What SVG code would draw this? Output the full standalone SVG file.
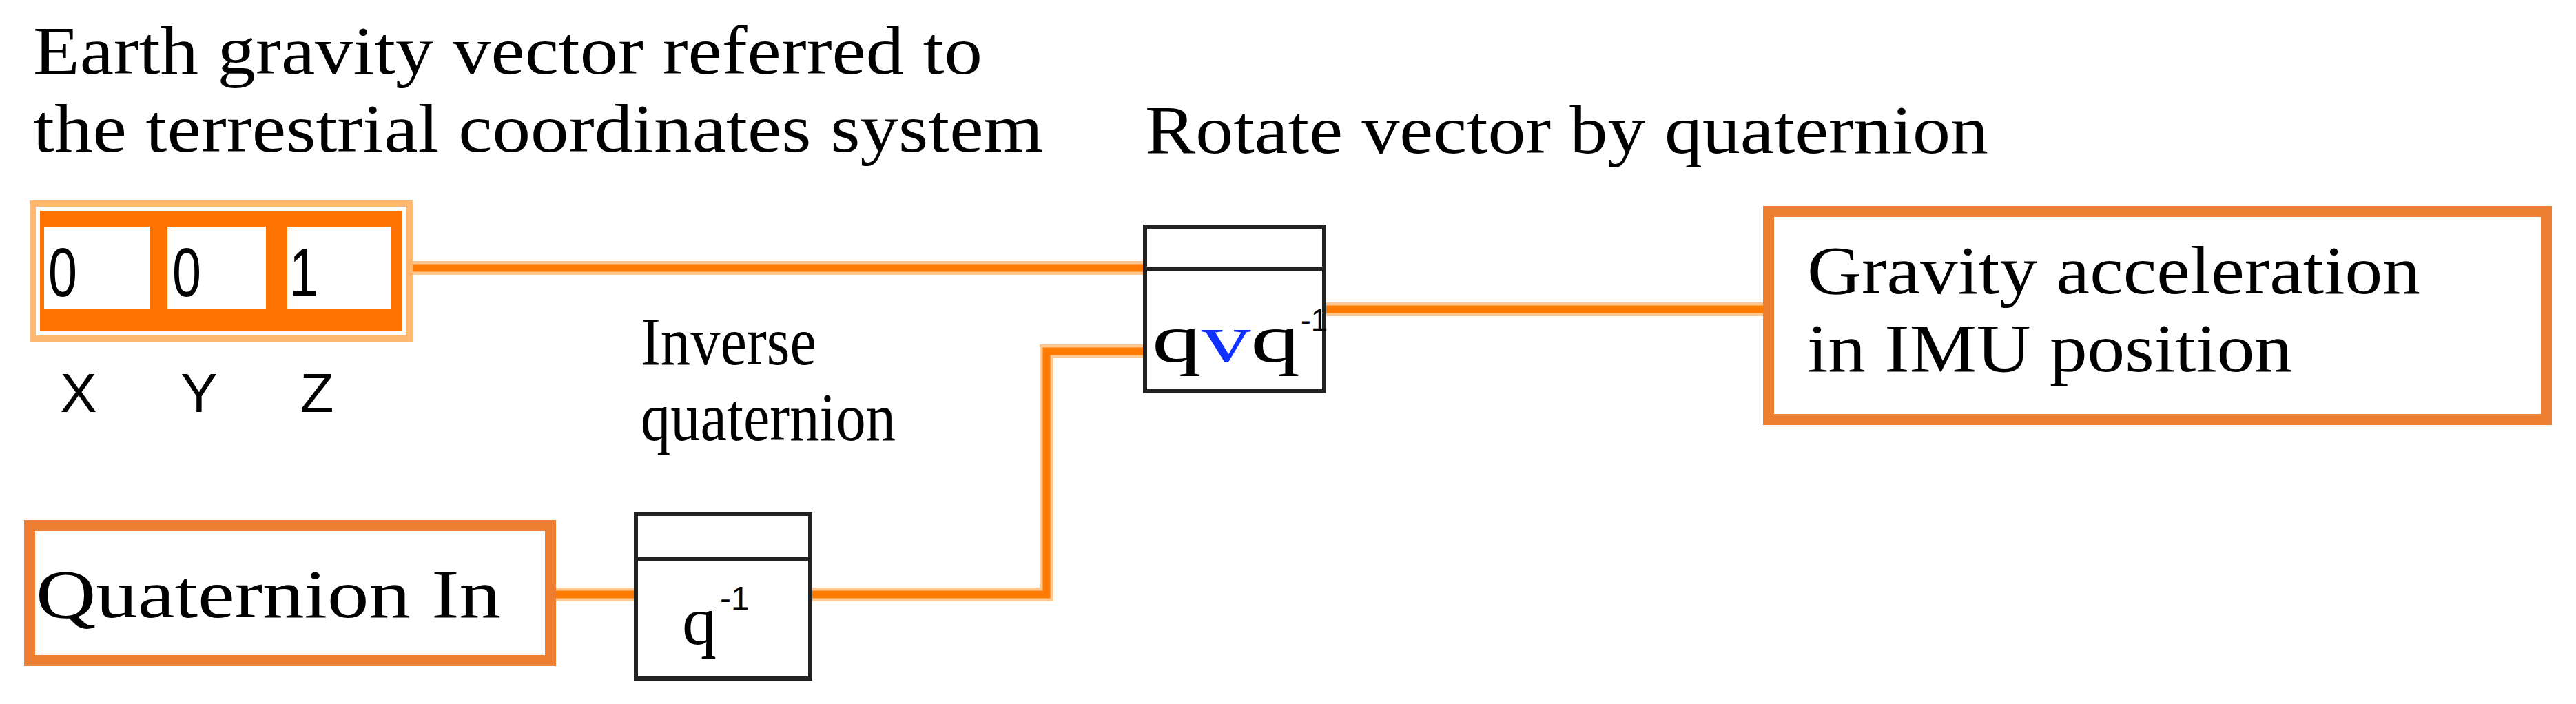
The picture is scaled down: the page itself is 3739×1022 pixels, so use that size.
<svg xmlns="http://www.w3.org/2000/svg" width="3739" height="1022" viewBox="0 0 3739 1022">
<style>
.t{font-family:"Liberation Serif",serif;font-size:100px;fill:#000}
.s{font-family:"Liberation Sans",sans-serif;fill:#000}
.box{fill:#fff;stroke:#ED7D31;stroke-width:16}
.blk{fill:#fff;stroke:#222;stroke-width:6}
.halo{fill:none;stroke:#FFC890;stroke-width:20}
.wire{fill:none;stroke:#FF7A00;stroke-width:11}
</style>
<rect width="3739" height="1022" fill="#fff"/>
<text class="t" x="48" y="107" textLength="1378" lengthAdjust="spacingAndGlyphs">Earth gravity vector referred to</text>
<text class="t" x="48" y="220" textLength="1466" lengthAdjust="spacingAndGlyphs">the terrestrial coordinates system</text>
<text class="t" x="1662" y="222" textLength="1224" lengthAdjust="spacingAndGlyphs">Rotate vector by quaternion</text>
<text class="t" x="930" y="529" textLength="255" lengthAdjust="spacingAndGlyphs">Inverse</text>
<text class="t" x="930" y="639" textLength="370" lengthAdjust="spacingAndGlyphs">quaternion</text>
<g id="connectors">
<path class="halo" d="M599 389H1662"/><path class="wire" d="M599 389H1662"/>
<path class="halo" d="M1922 449H2559"/><path class="wire" d="M1922 449H2559"/>
<path class="halo" d="M799 863H923"/><path class="wire" d="M799 863H923"/>
<path class="halo" d="M1176 863H1519V510H1662"/><path class="wire" d="M1176 863H1519V510H1662"/>
</g>
<g id="array">
<rect x="43" y="291" width="556" height="205" fill="#FFB870"/>
<rect x="52" y="300" width="538" height="187" fill="#fff"/>
<rect x="58" y="306" width="526" height="175" fill="#FF7300"/>
<rect x="64" y="329" width="153" height="119" fill="#fff"/>
<rect x="243" y="329" width="143" height="119" fill="#fff"/>
<rect x="417" y="329" width="151" height="119" fill="#fff"/>
<text class="s" x="70" y="430" font-size="100" fill="#1a2a6a" textLength="42" lengthAdjust="spacingAndGlyphs">0</text>
<text class="s" x="250" y="430" font-size="100" fill="#1a2a6a" textLength="42" lengthAdjust="spacingAndGlyphs">0</text>
<text class="s" x="420" y="430" font-size="100" fill="#3a1a6a" textLength="42" lengthAdjust="spacingAndGlyphs">1</text>
<text class="s" x="114" y="598" font-size="80" text-anchor="middle">X</text>
<text class="s" x="289" y="598" font-size="80" text-anchor="middle">Y</text>
<text class="s" x="460" y="598" font-size="80" text-anchor="middle">Z</text>
</g>
<g id="rotate">
<rect class="blk" x="1662" y="329" width="260" height="239"/>
<line x1="1662" y1="390" x2="1922" y2="390" stroke="#222" stroke-width="6"/>
<text class="t" x="1672" y="525" font-size="115" textLength="215" lengthAdjust="spacingAndGlyphs">q<tspan fill="#1030ff">v</tspan>q</text>
<text class="s" x="1888" y="480" font-size="44" fill="#1030ff">-1</text>
</g>
<g id="inverse">
<rect class="blk" x="923" y="746" width="253" height="239"/>
<line x1="923" y1="811" x2="1176" y2="811" stroke="#222" stroke-width="6"/>
<text class="t" x="990" y="935" font-size="110">q</text>
<text class="s" x="1045" y="885" font-size="48" fill="#ff0000">-1</text>
</g>
<g id="quatIn">
<rect class="box" x="43" y="763" width="756" height="196"/>
<text class="t" x="52" y="896" textLength="675" lengthAdjust="spacingAndGlyphs">Quaternion In</text>
</g>
<g id="gravity">
<rect class="box" x="2567" y="307" width="1129" height="302"/>
<text class="t" x="2623" y="426" textLength="890" lengthAdjust="spacingAndGlyphs">Gravity acceleration</text>
<text class="t" x="2623" y="539" textLength="704" lengthAdjust="spacingAndGlyphs">in IMU position</text>
</g>
</svg>
